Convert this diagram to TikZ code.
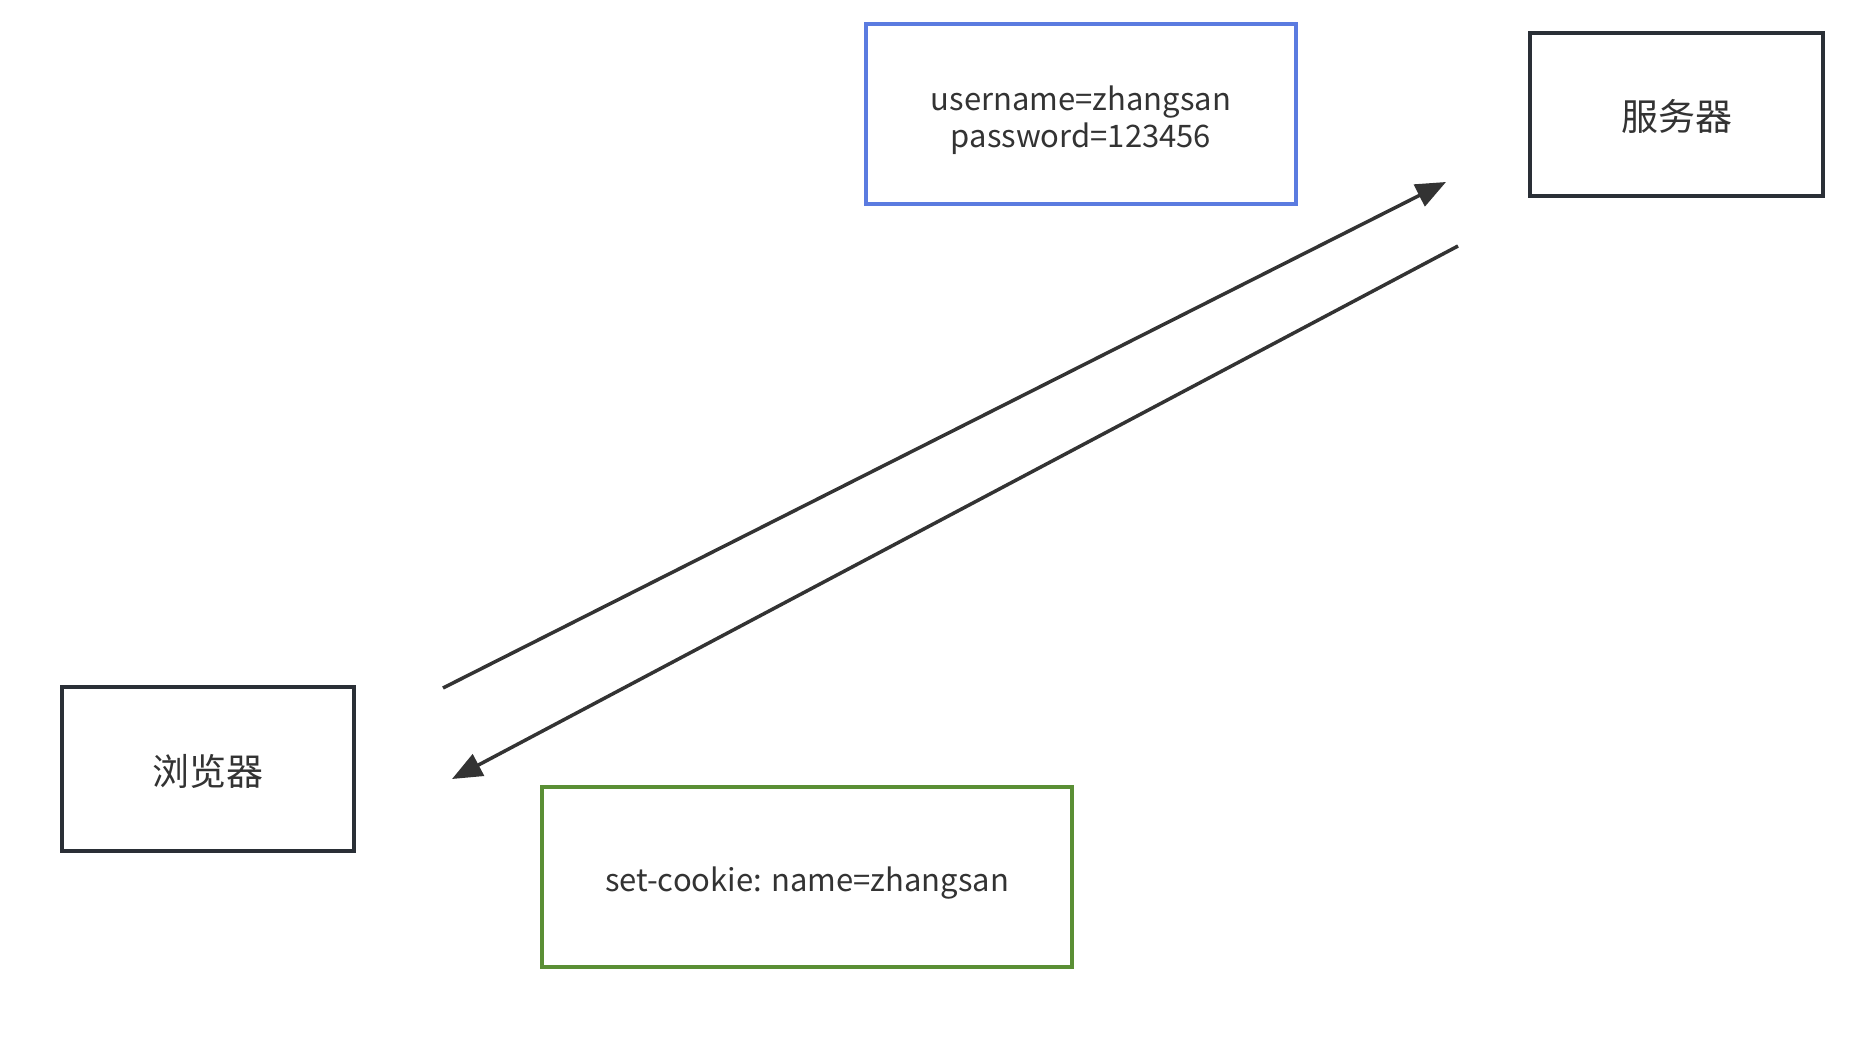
\documentclass[tikz,border=0pt]{standalone}
\usepackage{fontspec}
\setmainfont{Noto Sans CJK SC}
\usetikzlibrary{arrows.meta}
\definecolor{boxdark}{HTML}{2A2F36}
\definecolor{boxblue}{HTML}{5B7BE0}
\definecolor{boxgreen}{HTML}{5A8F35}
\definecolor{ink}{HTML}{333333}
\begin{document}
\begin{tikzpicture}[x=1pt,y=-1pt,
  box/.style={draw=boxdark, line width=3.5pt, rectangle, inner sep=0pt},
  latin/.style={text=ink, align=center, inner sep=0pt, font=\fontsize{31}{37}\selectfont},
  cjk/.style={text=ink, align=center, inner sep=0pt, font=\fontsize{37}{42}\selectfont},
  conn/.style={draw=ink, line width=3.5pt, -{Triangle[length=30pt,width=24pt]}}]
\useasboundingbox (0,0) rectangle (1864,1038);
\fill[white] (0,0) rectangle (1864,1038);
\node[box, minimum width=292pt, minimum height=164pt] (browser) at (208,769) {};
\node[cjk] (browsertext) at ([yshift=-2pt]browser.center) {浏览器};
\node[box, minimum width=293pt, minimum height=163pt] (server) at (1676.5,114.5) {};
\node[cjk] (servertext) at ([yshift=-2pt]server.center) {服务器};
\node[box, draw=boxblue, minimum width=430pt, minimum height=180pt] (req) at (1081,114) {};
\node[latin] (reqtext) at ([yshift=-6pt]req.center) {username=zhangsan\\password=123456};
\node[box, draw=boxgreen, minimum width=530pt, minimum height=180pt] (resp) at (807,877) {};
\node[latin] (resptext) at ([yshift=-6pt]resp.center) {set-cookie: name=zhangsan};
\coordinate (a1s) at (443,688);
\coordinate (a1e) at (1446,182);
\coordinate (a2s) at (1458,246);
\coordinate (a2e) at (452,779);
\draw[conn] (a1s) -- (a1e);
\draw[conn] (a2s) -- (a2e);
\end{tikzpicture}
\end{document}
